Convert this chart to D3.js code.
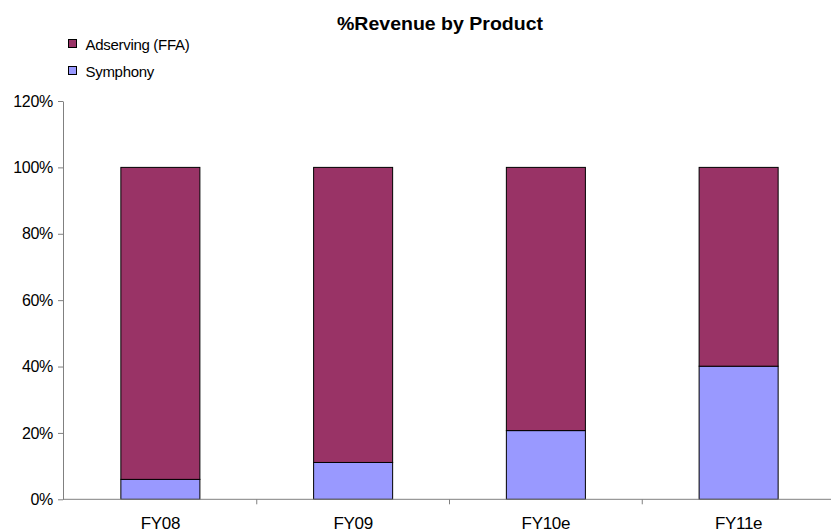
<!DOCTYPE html>
<html>
<head>
<meta charset="utf-8">
<script src="https://cdn.jsdelivr.net/npm/d3@7"></script>
<style>
  body { margin: 0; background: #fff; }
  text { font-family: "Liberation Sans", Arial, sans-serif; fill: #000; }
</style>
</head>
<body>
<script>
// chart data
const years = ["FY08", "FY09", "FY10e", "FY11e"];
const symphony = [6, 11.1, 20.7, 40.1];
const adserving = [94, 88.9, 79.3, 59.9];
const series_names = ["Symphony", "Adserving (FFA)"];
const y_ticks = [0, 20, 40, 60, 80, 100, 120];

const width = 832, height = 532;
const plot_left = 63, plot_right = 831, plot_top = 101, plot_bottom = 499.3;

const svg = d3.select("body").append("svg")
    .attr("width", width)
    .attr("height", height);

const x = d3.scaleBand().domain(years).range([plot_left + 1, plot_right + 4]).paddingInner(0.59).paddingOuter(0.295);
const y = d3.scaleLinear().domain([0, 120]).range([plot_bottom, plot_top]);
const color = d3.scaleOrdinal().domain(series_names).range(["#9999FF", "#993366"]);

// stack the two series
const rows = years.map((yr, i) => ({ year: yr, "Symphony": symphony[i], "Adserving (FFA)": adserving[i] }));
const stacked = d3.stack().keys(series_names)(rows);

svg.append("g").selectAll("g")
    .data(stacked)
    .join("g")
    .attr("fill", d => color(d.key))
    .selectAll("rect")
    .data(d => d)
    .join("rect")
    .attr("x", d => x(d.data.year))
    .attr("y", d => y(d[1]))
    .attr("width", x.bandwidth())
    .attr("height", d => y(d[0]) - y(d[1]))
    .attr("stroke", "#000")
    .attr("stroke-width", 1);

// y axis
const yAxis = svg.append("g")
    .attr("transform", `translate(${plot_left},0)`)
    .call(d3.axisLeft(y).tickValues(y_ticks).tickFormat(d => d + "%").tickSize(5).tickSizeOuter(0));
yAxis.select(".domain").attr("stroke", "#808080");
yAxis.selectAll(".tick line").attr("stroke", "#808080");
yAxis.selectAll("text").attr("font-size", 16).attr("letter-spacing", -0.3).attr("x", -10);

// x axis with ticks between categories
const xAxisG = svg.append("g").attr("transform", `translate(0,${plot_bottom})`);
xAxisG.append("line").attr("x1", plot_left).attr("x2", plot_right).attr("stroke", "#808080");
const step = x.step();
xAxisG.selectAll(".sep")
    .data(d3.range(1, years.length))
    .join("line")
    .attr("x1", i => x(years[i]) - step * 0.295)
    .attr("x2", i => x(years[i]) - step * 0.295)
    .attr("y2", 5)
    .attr("stroke", "#808080");
xAxisG.selectAll(".lbl")
    .data(years)
    .join("text")
    .attr("x", d => x(d) + x.bandwidth() / 2)
    .attr("y", 30)
    .attr("text-anchor", "middle")
    .attr("font-size", 17)
    .attr("letter-spacing", -0.3)
    .text(d => d);

// title
svg.append("text")
    .attr("x", 440)
    .attr("y", 30)
    .attr("text-anchor", "middle")
    .attr("font-size", 18)
    .attr("font-weight", "bold")
    .attr("textLength", 206)
    .attr("lengthAdjust", "spacingAndGlyphs")
    .text("%Revenue by Product");

// legend
const legend_items = ["Adserving (FFA)", "Symphony"];
const lg = svg.append("g").selectAll("g")
    .data(legend_items)
    .join("g")
    .attr("transform", (d, i) => `translate(68.5,${39.5 + i * 27})`);
lg.append("rect")
    .attr("width", 8).attr("height", 8)
    .attr("fill", d => color(d))
    .attr("stroke", "#000");
lg.append("text")
    .attr("x", 17).attr("y", 10)
    .attr("font-size", 15)
    .attr("letter-spacing", -0.3)
    .text(d => d);
</script>
</body>
</html>
